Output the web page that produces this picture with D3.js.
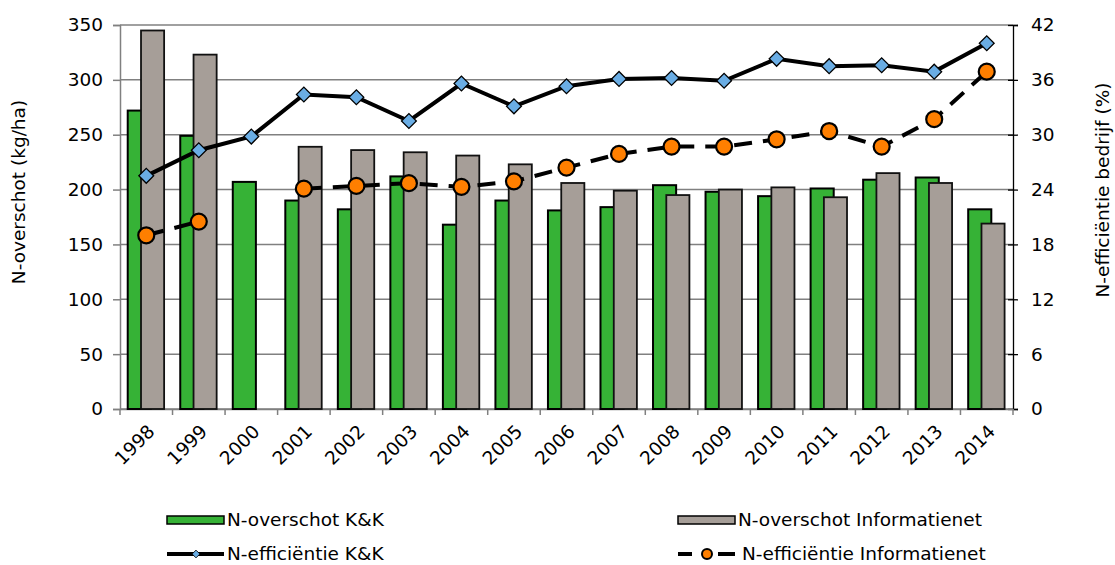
<!DOCTYPE html>
<html>
<head>
<meta charset="utf-8">
<script src="https://cdn.jsdelivr.net/npm/d3@7"></script>
<style>
  body { margin: 0; background: #fff; }
  svg text { font-family: "DejaVu Sans", Verdana, sans-serif; fill: #000; }
</style>
</head>
<body>
<svg id="chart" width="1115" height="565"></svg>
<script>
const years = ["1998","1999","2000","2001","2002","2003","2004","2005","2006","2007","2008","2009","2010","2011","2012","2013","2014"];
const overschotKK = [272, 249, 207, 190, 182, 212, 168, 190, 181, 184, 204, 198, 194, 201, 209, 211, 182];
const overschotInfo = [345, 323, null, 239, 236, 234, 231, 223, 206, 199, 195, 200, 202, 193, 215, 206, 169];
const effKK = [25.5, 28.3, 29.8, 34.4, 34.1, 31.5, 35.6, 33.1, 35.3, 36.1, 36.2, 35.9, 38.3, 37.5, 37.6, 36.9, 40.0];
const effInfo = [19.0, 20.5, null, 24.1, 24.4, 24.7, 24.3, 24.9, 26.4, 27.9, 28.7, 28.7, 29.5, 30.4, 28.7, 31.7, 36.9];
const leftTicks = [0, 50, 100, 150, 200, 250, 300, 350];
const rightTicks = [0, 6, 12, 18, 24, 30, 36, 42];

const green = "#36b236", grey = "#a69e98", blue = "#6aade4", orange = "#ff7f00";
const fs = "18.5px";
const svg = d3.select("#chart");

const x = d3.scaleBand().domain(years).range([120, 1013]);
const yL = d3.scaleLinear().domain([0, 350]).range([409, 25]);
const yR = d3.scaleLinear().domain([0, 42]).range([409, 25]);
const bw = x.bandwidth();
const cx = (d) => x(d) + bw / 2;

// gridlines
svg.append("g").selectAll("line").data(leftTicks).enter().append("line")
    .attr("x1", 120).attr("x2", 1013)
    .attr("y1", (d) => yL(d)).attr("y2", (d) => yL(d))
    .attr("stroke", "#808080").attr("stroke-width", 1.5);

// left axis
const left = svg.append("g").attr("transform", "translate(120,0)")
    .call(d3.axisLeft(yL).tickValues(leftTicks).tickSize(7).tickPadding(10));
left.selectAll("path, line").attr("stroke", "#808080").attr("stroke-width", 1.5);
left.selectAll("text").style("font-size", fs).attr("font-family", null);

// right axis
const right = svg.append("g").attr("transform", "translate(1013,0)")
    .call(d3.axisRight(yR).tickValues(rightTicks).tickSize(5).tickPadding(13));
right.select("path").attr("stroke", "#000").attr("stroke-width", 1.3);
right.selectAll("line").attr("stroke", "#000").attr("x1", -5).attr("stroke-width", 1.3);
right.selectAll("text").style("font-size", fs).attr("font-family", null);

// bottom axis
const bottom = svg.append("g").attr("transform", "translate(0,409)")
    .call(d3.axisBottom(x).tickValues([]).tickSizeOuter(0));
bottom.select("path").attr("stroke", "#808080").attr("stroke-width", 1.5);
bottom.selectAll("line.yt").data(years.concat(["end"])).enter().append("line")
    .attr("x1", (d, i) => 120 + i * bw).attr("x2", (d, i) => 120 + i * bw)
    .attr("y1", 0).attr("y2", 6).attr("stroke", "#808080").attr("stroke-width", 1.5);
svg.append("g").selectAll("text").data(years).enter().append("text")
    .attr("transform", (d) => `translate(${cx(d) + 5},428) rotate(-45)`)
    .attr("text-anchor", "end").attr("dy", "0.35em")
    .style("font-size", fs).text((d) => d);

// bars
const bars = svg.append("g");
bars.selectAll("rect.kk").data(years).enter().append("rect")
    .attr("x", (d) => x(d) + bw * 0.147).attr("width", bw * 0.44)
    .attr("y", (d, i) => yL(overschotKK[i])).attr("height", (d, i) => 409 - yL(overschotKK[i]))
    .attr("fill", green).attr("stroke", "#000").attr("stroke-width", 2);
bars.selectAll("rect.info").data(years.filter((d, i) => overschotInfo[i] != null)).enter().append("rect")
    .attr("x", (d) => x(d) + bw * 0.40).attr("width", bw * 0.44)
    .attr("y", (d) => yL(overschotInfo[years.indexOf(d)]))
    .attr("height", (d) => 409 - yL(overschotInfo[years.indexOf(d)]))
    .attr("fill", grey).attr("stroke", "#111").attr("stroke-width", 1.8);

// lines
const line = d3.line().defined((d) => d[1] != null).x((d) => cx(d[0])).y((d) => yR(d[1]));
const kkPts = years.map((d, i) => [d, effKK[i]]);
const infoPts = years.map((d, i) => [d, effInfo[i]]);

svg.append("path").datum(infoPts).attr("d", line).attr("fill", "none")
    .attr("stroke", "#000").attr("stroke-width", 4).attr("stroke-dasharray", "18,11");
svg.append("path").datum(kkPts).attr("d", line).attr("fill", "none")
    .attr("stroke", "#000").attr("stroke-width", 4);

const diamond = d3.symbol().type(d3.symbolSquare).size(110);
svg.append("g").selectAll("path").data(kkPts).enter().append("path")
    .attr("d", diamond)
    .attr("transform", (d) => `translate(${cx(d[0])},${yR(d[1])}) rotate(45)`)
    .attr("fill", blue).attr("stroke", "#000").attr("stroke-width", 1.3);

svg.append("g").selectAll("circle").data(infoPts.filter((d) => d[1] != null)).enter().append("circle")
    .attr("cx", (d) => cx(d[0])).attr("cy", (d) => yR(d[1])).attr("r", 8)
    .attr("fill", orange).attr("stroke", "#000").attr("stroke-width", 2.2);

// axis titles
svg.append("text").attr("transform", "translate(25,192) rotate(-90)")
    .attr("text-anchor", "middle").style("font-size", fs).text("N-overschot (kg/ha)");
svg.append("text").attr("transform", "translate(1109,190) rotate(-90)")
    .attr("text-anchor", "middle").style("font-size", fs).text("N-efficiëntie bedrijf (%)");

// legend
const legend = svg.append("g");
const lg = [
    { x: 167, y: 520, type: "bar", fill: green, label: "N-overschot K&K" },
    { x: 678, y: 520, type: "bar", fill: grey, label: "N-overschot Informatienet" },
    { x: 167, y: 554, type: "kk", label: "N-efficiëntie K&K" },
    { x: 678, y: 554, type: "info", label: "N-efficiëntie Informatienet" },
];
lg.forEach((d) => {
    const g = legend.append("g").attr("transform", `translate(${d.x},${d.y})`);
    if (d.type === "bar") {
        g.append("rect").attr("x", 0).attr("y", -4).attr("width", 57).attr("height", 8)
            .attr("fill", d.fill).attr("stroke", "#000").attr("stroke-width", 1.5);
    } else if (d.type === "kk") {
        g.append("line").attr("x1", 0).attr("x2", 57).attr("stroke", "#000").attr("stroke-width", 4);
        g.append("path").attr("d", d3.symbol().type(d3.symbolSquare).size(30))
            .attr("transform", "translate(29,0) rotate(45)")
            .attr("fill", blue).attr("stroke", "#000").attr("stroke-width", 0.8);
    } else {
        g.append("line").attr("x1", 0).attr("x2", 14).attr("stroke", "#000").attr("stroke-width", 4);
        g.append("line").attr("x1", 40).attr("x2", 57).attr("stroke", "#000").attr("stroke-width", 4);
        g.append("circle").attr("cx", 29).attr("r", 5)
            .attr("fill", orange).attr("stroke", "#000").attr("stroke-width", 2);
    }
    g.append("text").attr("x", d.type === "info" ? 64 : 60).attr("dy", "0.35em")
        .style("font-size", fs).text(d.label);
});
</script>
</body>
</html>
